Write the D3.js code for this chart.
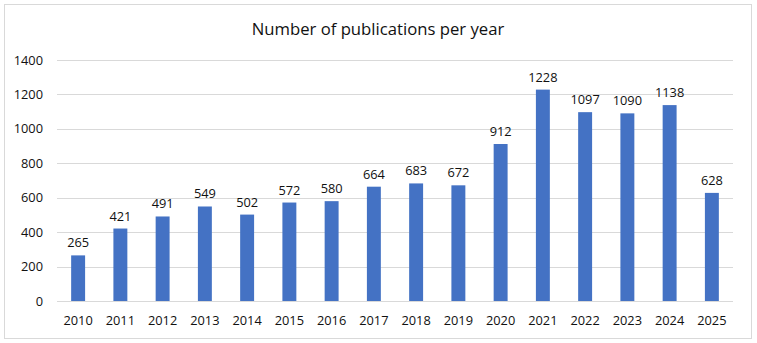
<!DOCTYPE html>
<html><head><meta charset="utf-8">
<script src="https://cdn.jsdelivr.net/npm/d3@7"></script>
<style>body{margin:0;background:#fff}svg{display:block}text{font-family:"Open Sans","Liberation Sans",sans-serif}</style>
</head><body>
<svg id="c" width="757" height="343"></svg>
<script>
const years = ["2010","2011","2012","2013","2014","2015","2016","2017","2018","2019","2020","2021","2022","2023","2024","2025"];
const publications = [265,421,491,549,502,572,580,664,683,672,912,1228,1097,1090,1138,628];
const yTicks = [0,200,400,600,800,1000,1200,1400];
const title = "Number of publications per year";

const svg = d3.select("#c");
svg.append("rect").attr("x",4.5).attr("y",4.5).attr("width",747).attr("height",334).attr("fill","#fff").attr("stroke","#d9d9d9");
const L=57,R=733,T=60,B=301;
const x = d3.scaleBand().domain(years).range([L,R]).padding(0);
const y = d3.scaleLinear().domain([0,1400]).range([B,T]);
const g = svg.append("g");
g.selectAll("line.grid").data(yTicks).join("line").attr("class","grid")
 .attr("x1",L).attr("x2",R).attr("y1",d=>Math.round(y(d))+0.5).attr("y2",d=>Math.round(y(d))+0.5)
 .attr("stroke","#d9d9d9").attr("stroke-width",1);
const bw = x.bandwidth()*0.33;
g.selectAll("rect.bar").data(publications).join("rect").attr("class","bar")
 .attr("x",(d,i)=>x(years[i])+x.bandwidth()/2-bw/2).attr("width",bw)
 .attr("y",d=>y(d)).attr("height",d=>B-y(d)).attr("fill","#4472C4");
g.selectAll("text.val").data(publications).join("text").attr("class","val")
 .attr("x",(d,i)=>x(years[i])+x.bandwidth()/2).attr("y",d=>y(d)-8)
 .attr("text-anchor","middle").attr("font-size",12.8).attr("fill","#111").text(d=>d);
g.selectAll("text.yl").data(yTicks).join("text").attr("class","yl")
 .attr("x",43).attr("y",d=>y(d)+4.5).attr("text-anchor","end").attr("font-size",12.8).attr("fill","#111").text(d=>d);
g.selectAll("text.xl").data(years).join("text").attr("class","xl")
 .attr("x",d=>x(d)+x.bandwidth()/2).attr("y",325).attr("text-anchor","middle").attr("font-size",12.8).attr("fill","#111").text(d=>d);
svg.append("text").attr("x",378).attr("y",34.5).attr("text-anchor","middle").attr("font-size",16.7).attr("fill","#111").text(title);
</script>
</body></html>
